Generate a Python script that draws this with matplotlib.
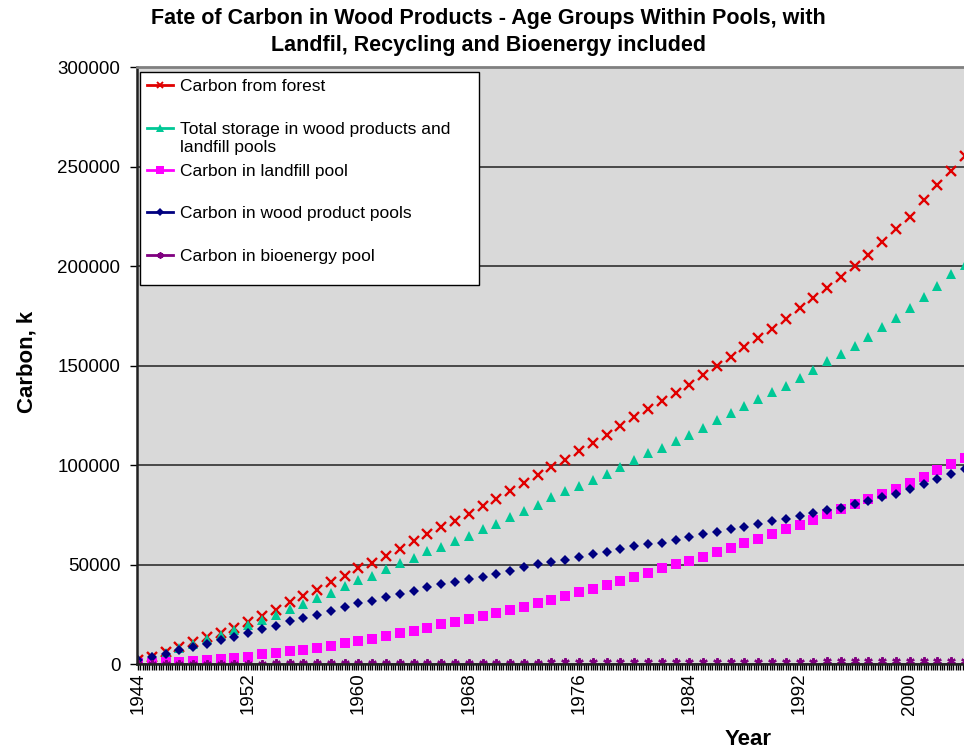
import matplotlib
matplotlib.use("Agg")
import matplotlib.pyplot as plt
from matplotlib.patches import Rectangle
from matplotlib.lines import Line2D
import numpy as np

plt.rcParams['font.family'] = ['Liberation Sans', 'DejaVu Sans']

years = np.arange(1944, 2005)

carbon_forest = [2150, 3800, 6300, 8800, 11000, 13500, 15800, 18300, 21300, 24500,
                 27500, 31150, 34500, 37500, 41150, 44300, 48150, 50800, 54300, 58000,
                 61800, 65500, 68800, 72150, 75650, 79300, 83150, 86800, 91150, 95000,
                 99000, 102800, 107150, 111150, 115150, 119500, 124000, 128150, 132000, 136300,
                 140500, 145500, 150000, 154500, 159150, 164000, 168650, 173500, 178800, 184000,
                 189150, 194650, 200150, 205800, 212000, 218500, 224800, 233000, 240500, 247900,
                 255400]

total_storage = [1500, 3500, 5800, 8000, 10200, 12500, 14500, 17150, 19650, 22500,
                 25000, 27650, 30500, 33500, 36000, 39150, 42150, 44500, 47650, 50800,
                 53500, 56900, 59150, 62000, 64650, 67800, 70650, 73800, 77150, 80150,
                 83800, 86800, 89650, 92800, 95650, 99000, 102650, 106150, 108800, 112300,
                 115300, 118800, 122650, 126300, 129800, 133500, 136650, 140000, 144000, 147800,
                 152300, 156000, 160000, 164150, 169300, 173800, 179000, 184300, 190000, 195800,
                 200500]

landfill = [500, 500, 1000, 1300, 1800, 2150, 2650, 3300, 3650, 5000,
            5650, 6500, 7300, 8000, 9300, 10650, 11500, 12800, 14300, 15500,
            16650, 18000, 20000, 21150, 22650, 24300, 25800, 27150, 29000, 30800,
            32500, 34150, 36150, 38000, 40000, 42000, 44000, 45800, 48150, 50150,
            51650, 54100, 56300, 58500, 61000, 63150, 65500, 68000, 70000, 72650,
            75300, 77800, 80500, 83000, 85500, 88150, 91300, 94300, 97500, 100500,
            103800]

wood_products = [2150, 3500, 5150, 7000, 8500, 10300, 12000, 13800, 15500, 17500,
                 19300, 21500, 23300, 25000, 27000, 28800, 30650, 32000, 33650, 35300,
                 37000, 38650, 40300, 41500, 42650, 43800, 45300, 47000, 48800, 50150,
                 51300, 52500, 54000, 55300, 56650, 57800, 59650, 60500, 61150, 62500,
                 64000, 65300, 66650, 67800, 69150, 70300, 71800, 73000, 74500, 75800,
                 77300, 78650, 80300, 82150, 84000, 85650, 88150, 90500, 93000, 95500,
                 98000]

bioenergy = [0, 50, 100, 150, 200, 250, 300, 350, 400, 400,
             450, 450, 500, 500, 550, 550, 600, 600, 650, 650,
             700, 700, 750, 750, 800, 800, 850, 850, 900, 900,
             950, 950, 1000, 1000, 1050, 1050, 1100, 1100, 1150, 1150,
             1200, 1200, 1250, 1250, 1300, 1300, 1350, 1350, 1400, 1400,
             1450, 1450, 1500, 1500, 1550, 1550, 1600, 1650, 1700, 1700,
             1750]

series = [
    (carbon_forest, 'Carbon from forest', '#e00000', 'x', 6.5, 1.7),
    (total_storage, 'Total storage in wood products and\nlandfill pools', '#00c896', '^', 7, 0),
    (landfill, 'Carbon in landfill pool', '#ff00ff', 's', 7, 0),
    (wood_products, 'Carbon in wood product pools', '#000080', 'D', 5.5, 0),
    (bioenergy, 'Carbon in bioenergy pool', '#800080', (6, 2, 0), 6, 1.6),
]

W, H = 964, 753
fig = plt.figure(figsize=(W / 100, H / 100), dpi=100)
ax = fig.add_axes([137 / W, 1 - 664.3 / H, 1 - 137 / W, (664.3 - 67) / H])
ax.set_facecolor('#d9d9d9')

for values, label, color, marker, ms, mew in series:
    ax.plot(years, values, color=color, marker=marker, ms=ms, mew=mew,
            linestyle='none', label=label)

ax.set_xlim(1943.93, 2003.93)
ax.set_ylim(0, 300000)
ax.set_yticks(np.arange(0, 300001, 50000))
ax.set_xticks(np.arange(1944, 2004, 8))
ax.set_xticks(np.arange(1944, 2004, 1 / 6), minor=True)
ax.tick_params(axis='x', which='both', direction='out', length=4, width=1,
               labelsize=13.5, labelrotation=90, pad=2)
ax.tick_params(axis='y', direction='out', length=5, width=1, labelsize=13.5, pad=7)

ax.grid(axis='y', color='#303030', linewidth=1.2)
ax.set_axisbelow(True)
for side in ['left', 'bottom']:
    ax.spines[side].set_linewidth(1.8)
    ax.spines[side].set_color('#202020')
ax.spines['top'].set_color('#808080')
ax.spines['top'].set_linewidth(2)
ax.spines['right'].set_visible(False)

fig.text(0.507, 0.99, 'Fate of Carbon in Wood Products - Age Groups Within Pools, with\n'
         'Landfil, Recycling and Bioenergy included',
         ha='center', va='top', fontsize=15.5, fontweight='bold', linespacing=1.4)
fig.text(0.028, 0.52, 'Carbon, k', rotation=90, ha='center', va='center',
         fontsize=16, fontweight='bold')
fig.text(0.776, 0.004, 'Year', ha='center', va='bottom', fontsize=16, fontweight='bold')

# legend: white box with one row per series (first text line at each row)
fig.patches.append(Rectangle((140 / W, 1 - 285 / H), 339 / W, 213 / H,
                             transform=fig.transFigure, facecolor='white',
                             edgecolor='black', linewidth=1, zorder=5))
row_y = [85, 128, 170, 212, 255]
for (values, label, color, marker, ms, mew), y in zip(series, row_y):
    yf = 1 - y / H
    fig.add_artist(Line2D([147 / W, 173 / W], [yf, yf], transform=fig.transFigure,
                          color=color, linewidth=2, zorder=6))
    fig.add_artist(Line2D([160 / W], [yf], transform=fig.transFigure, color=color,
                          marker=marker, ms=ms * 0.75, mew=mew * 0.8, linestyle='none',
                          zorder=7))
    fig.text(180 / W, 1 - (y - 6) / H, label, ha='left', va='top', fontsize=12.5,
             linespacing=1.25, zorder=7)

fig.savefig('out.png', dpi=100)
